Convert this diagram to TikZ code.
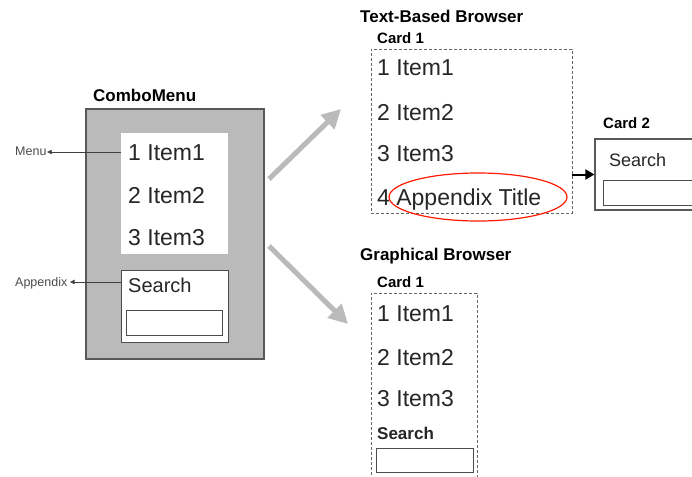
\documentclass[tikz,border=0pt]{standalone}
\usepackage{fontspec}
\setmainfont{Liberation Sans}
\usetikzlibrary{arrows.meta,shapes.geometric}

\tikzset{
  itm/.style={anchor=base west,inner sep=0pt,font=\fontsize{23}{27}\selectfont,text=black!85},
  ttl/.style={anchor=base west,inner sep=0pt,font=\bfseries\fontsize{17}{20}\selectfont},
  crd/.style={anchor=base west,inner sep=0pt,font=\bfseries\fontsize{15}{18}\selectfont},
  lbl/.style={anchor=base west,inner sep=0pt,font=\fontsize{12.5}{15}\selectfont,text=black!70},
  box/.style={rectangle,inner sep=0pt},
  field/.style={box,draw=black!70,line width=1pt,fill=white},
  card/.style={box,draw=black!60,line width=.6pt,dash pattern=on 3pt off 2pt},
  pointer/.style={black!75,line width=.8pt,-{Latex[length=5pt,width=5pt]}},
  flow/.style={line width=5pt,black!27,-{Triangle[length=19pt,width=19pt]}}
}

\begin{document}
\begin{tikzpicture}[x=1pt,y=-1pt]
  \clip (0,0) rectangle (692,476);
  \fill[white] (0,0) rectangle (692,476);

  % combo menu
  \node[ttl] (ctitle) at (93,101) {ComboMenu};
  \node[box,fill=black!27,draw=black!65,line width=1.2pt,minimum width=178,minimum height=250] (combo) at (175,234) {};
  \node[box,fill=white,minimum width=107,minimum height=121] (menubox) at (174.5,193.5) {};
  \node[field,minimum width=107,minimum height=72] (srchbox) at (174.5,306) {};
  \node[field,minimum width=96,minimum height=25] (cfield) at (174,322.5) {};

  \begin{scope}[every node/.style={itm}]
    \node (c1) at (128,160) {1 Item1};
    \node (c2) at (128,203) {2 Item2};
    \node (c3) at (128,245) {3 Item3};
    \node[font=\fontsize{20}{24}\selectfont] (cs) at (128,292) {Search};
  \end{scope}

  \node[lbl] (menu) at (15,155) {Menu};
  \node[lbl] (appx) at (15,286) {Appendix};
  \draw[pointer] (menubox.west |- 0,152) -- (menu.east |- 0,152);
  \draw[pointer] (srchbox.west |- 0,282) -- ([xshift=2pt]appx.east |- 0,282);

  % text-based browser
  \node[ttl] (ttitle) at (360,23) {Text-Based Browser};
  \node[crd] (tcard) at (377,44) {Card 1};
  \node[card,minimum width=201,minimum height=164] (card1) at (471.5,131) {};
  \begin{scope}[every node/.style={itm}]
    \node (t1) at (377,76) {1 Item1};
    \node (t2) at (377,120) {2 Item2};
    \node (t3) at (377,161) {3 Item3};
    \node (t4) at (377,205) {4 Appendix Title};
  \end{scope}
  \node[ellipse,draw=red!80!orange,line width=1.2pt,minimum width=178,minimum height=48,inner sep=0pt] (apx) at (478,197) {};

  \node[crd] (tcard2) at (603,128) {Card 2};
  \node[box,draw=black!65,line width=1.2pt,minimum width=125,minimum height=71] (card2) at (657.5,174.5) {};
  \node[itm,font=\fontsize{18}{22}\selectfont] (s2) at (609,166) {Search};
  \node[field,minimum width=117,minimum height=25] (f2) at (661.5,192.5) {};
  \draw[black,line width=2pt,-{Triangle[length=9pt,width=10pt]}] (card1.east |- card2.west) -- (card2.west);

  % graphical browser
  \node[ttl] (gtitle) at (360,260) {Graphical Browser};
  \node[crd] (gcard) at (377,287) {Card 1};
  \node[card,minimum width=106,minimum height=214] (card3) at (424,400) {};
  \begin{scope}[every node/.style={itm}]
    \node (g1) at (377,321) {1 Item1};
    \node (g2) at (377,365) {2 Item2};
    \node (g3) at (377,406) {3 Item3};
    \node[font=\bfseries\fontsize{17}{20}\selectfont] (gs) at (377,439) {Search};
  \end{scope}
  \node[field,minimum width=97,minimum height=24] (gfield) at (424.5,460) {};

  % flow arrows
  \coordinate (up) at (269,179);
  \coordinate (dn) at (269,246);
  \draw[flow] (up) -- (341,109);
  \draw[flow] (dn) -- (348,324);
\end{tikzpicture}
\end{document}
